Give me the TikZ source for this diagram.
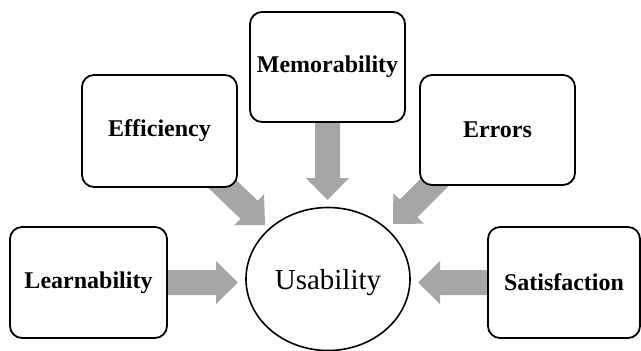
\documentclass[tikz,border=0pt]{standalone}
\usepackage{fontspec}
\setmainfont{Liberation Serif}
\usetikzlibrary{calc,shapes.geometric,backgrounds}
\definecolor{arrowgray}{HTML}{A6A6A6}

% block arrow dimensions
\newcommand\arrHeadLen{22pt}
\newcommand\arrHeadHalf{21.5pt}
\newcommand\arrShaftHalf{12.5pt}

% \blockarrow{name}{tail}{tip}: wide filled arrow from tail to tip
\newcommand\blockarrow[3]{%
  \coordinate (#1b) at ($(#3)!\arrHeadLen!(#2)$);
  \fill[arrowfill] (#3)
    -- ($(#1b)!\arrHeadHalf!90:(#3)$)
    -- ($(#1b)!\arrShaftHalf!90:(#3)$)
    -- ($(#2)!\arrShaftHalf!90:(#3)$)
    -- ($(#2)!\arrShaftHalf!-90:(#3)$)
    -- ($(#1b)!\arrShaftHalf!-90:(#3)$)
    -- ($(#1b)!\arrHeadHalf!-90:(#3)$)
    -- cycle;
}

\begin{document}
\begin{tikzpicture}[x=1pt,y=-1pt,
  factor/.style={draw=black, line width=1.8pt, rounded corners=12pt, fill=white,
    minimum width=155pt, minimum height=111pt, inner sep=0pt,
    font=\fontsize{24}{28}\selectfont\bfseries},
  core/.style={draw=black, ellipse, line width=1.6pt, fill=white,
    minimum width=164pt, minimum height=143pt, inner sep=0pt, text depth=0pt,
    font=\fontsize{29}{34}\selectfont},
  arrowfill/.style={fill=arrowgray}]
\useasboundingbox (0,0) rectangle (641,351);

% usability attributes
\node[factor, minimum width=157pt] (l) at (88.5,282.5) {Learnability};
\node[factor, minimum height=112pt] (e) at (159.5,131) {Efficiency};
\node[factor, minimum height=110pt] (m) at (327.5,67) {Memorability};
\node[factor, minimum height=110pt] (r) at (497.5,130) {Errors};
\node[factor, minimum width=152pt] (s) at (564,282.5) {Satisfaction};

% central concept
\node[core] (u) at (328,279) {Usability};

% arrow tails inside the boxes, tips just short of the ellipse
\coordinate (lt) at (l.east);
\coordinate (st) at (s.west);
\coordinate (mt) at (m.south);
\coordinate (et) at ($(e.south east)+(-22,-10)$);
\coordinate (rt) at ($(r.south west)+(22,-10)$);
\coordinate (lh) at ($(u.center)+(-90,3.5)$);
\coordinate (sh) at ($(u.center)+(90,3.5)$);
\coordinate (mh) at ($(u.center)+(-0.5,-79)$);
\coordinate (eh) at ($(u.center)+(-63,-54)$);
\coordinate (rh) at ($(u.center)+(65,-55)$);

\begin{pgfonlayer}{background}
  \fill[white] (0,0) rectangle (641,351);
  \blockarrow{la}{lt}{lh}
  \blockarrow{sa}{st}{sh}
  \blockarrow{ma}{mt}{mh}
  \blockarrow{ea}{et}{eh}
  \blockarrow{ra}{rt}{rh}
\end{pgfonlayer}
\end{tikzpicture}
\end{document}
